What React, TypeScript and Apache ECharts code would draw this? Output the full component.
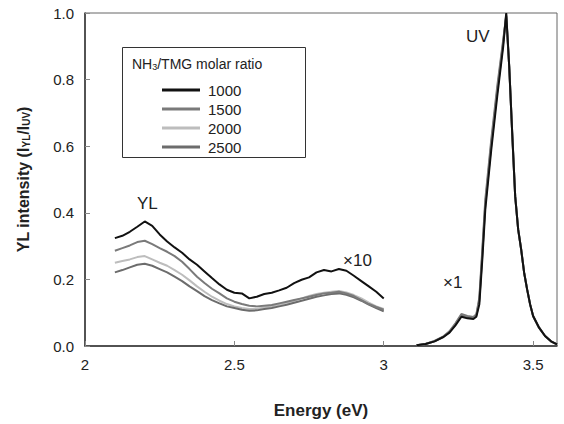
import React, { useEffect, useRef } from "react";
import * as echarts from "echarts";

const ratios = ["1000", "1500", "2000", "2500"];
const colors = ["#111111", "#7a7a7a", "#bdbdbd", "#6c6c6c"];

const energyYL = [2.1, 2.125, 2.15, 2.175, 2.2, 2.225, 2.25, 2.275, 2.3, 2.325, 2.35, 2.375, 2.4, 2.425, 2.45, 2.475, 2.5, 2.525, 2.55, 2.575, 2.6, 2.625, 2.65, 2.675, 2.7, 2.725, 2.75, 2.775, 2.8, 2.825, 2.85, 2.875, 2.9, 2.925, 2.95, 2.975, 3.0];
const yl1000 = [0.324, 0.331, 0.343, 0.358, 0.374, 0.361, 0.335, 0.314, 0.296, 0.280, 0.260, 0.244, 0.224, 0.204, 0.185, 0.169, 0.160, 0.158, 0.143, 0.148, 0.156, 0.160, 0.167, 0.175, 0.189, 0.199, 0.206, 0.221, 0.228, 0.224, 0.231, 0.226, 0.211, 0.195, 0.179, 0.163, 0.143];
const yl1500 = [0.286, 0.294, 0.302, 0.312, 0.316, 0.306, 0.294, 0.283, 0.270, 0.253, 0.231, 0.208, 0.189, 0.172, 0.158, 0.143, 0.133, 0.126, 0.121, 0.119, 0.121, 0.123, 0.128, 0.133, 0.138, 0.143, 0.148, 0.153, 0.158, 0.160, 0.163, 0.158, 0.150, 0.138, 0.126, 0.117, 0.109];
const yl2000 = [0.250, 0.255, 0.260, 0.267, 0.270, 0.260, 0.250, 0.241, 0.228, 0.214, 0.197, 0.179, 0.163, 0.148, 0.136, 0.126, 0.119, 0.114, 0.111, 0.112, 0.116, 0.119, 0.124, 0.130, 0.136, 0.143, 0.150, 0.156, 0.160, 0.163, 0.165, 0.161, 0.153, 0.143, 0.130, 0.119, 0.111];
const yl2500 = [0.221, 0.228, 0.236, 0.244, 0.247, 0.241, 0.231, 0.221, 0.208, 0.195, 0.179, 0.165, 0.150, 0.138, 0.128, 0.119, 0.114, 0.109, 0.106, 0.107, 0.111, 0.114, 0.119, 0.124, 0.130, 0.136, 0.142, 0.148, 0.152, 0.156, 0.158, 0.154, 0.146, 0.136, 0.124, 0.114, 0.104];

const energyUV = [3.11, 3.14, 3.17, 3.2, 3.22, 3.24, 3.26, 3.28, 3.3, 3.31, 3.32, 3.33, 3.34, 3.36, 3.38, 3.4, 3.41, 3.42, 3.43, 3.44, 3.45, 3.46, 3.47, 3.48, 3.49, 3.5, 3.52, 3.54, 3.56, 3.58];
const uv1000 = [0.002, 0.006, 0.014, 0.027, 0.040, 0.062, 0.088, 0.083, 0.081, 0.088, 0.125, 0.260, 0.410, 0.590, 0.750, 0.900, 1.000, 0.840, 0.640, 0.450, 0.350, 0.290, 0.220, 0.170, 0.125, 0.090, 0.055, 0.030, 0.014, 0.005];
const uv1500 = [0.002, 0.006, 0.015, 0.029, 0.044, 0.068, 0.096, 0.090, 0.087, 0.095, 0.145, 0.290, 0.440, 0.620, 0.780, 0.920, 0.990, 0.840, 0.640, 0.450, 0.350, 0.290, 0.220, 0.170, 0.125, 0.090, 0.055, 0.030, 0.014, 0.005];
const uv2000 = [0.002, 0.006, 0.015, 0.028, 0.043, 0.066, 0.094, 0.088, 0.085, 0.093, 0.140, 0.280, 0.430, 0.610, 0.770, 0.915, 0.990, 0.840, 0.640, 0.450, 0.350, 0.290, 0.220, 0.170, 0.125, 0.090, 0.055, 0.030, 0.014, 0.005];
const uv2500 = [0.002, 0.006, 0.014, 0.028, 0.042, 0.065, 0.092, 0.086, 0.084, 0.092, 0.135, 0.275, 0.425, 0.605, 0.765, 0.910, 0.995, 0.840, 0.640, 0.450, 0.350, 0.290, 0.220, 0.170, 0.125, 0.090, 0.055, 0.030, 0.014, 0.005];

const xTickValues = ["2", "2.5", "3", "3.5"];

const ylSets = [yl1000, yl1500, yl2000, yl2500];
const uvSets = [uv1000, uv1500, uv2000, uv2500];

const FONT = "'Liberation Sans', Arial, sans-serif";

export default function App() {
  const ref = useRef<HTMLDivElement>(null);
  useEffect(() => {
    if (!ref.current) return;
    const chart = echarts.init(ref.current, undefined, { renderer: "svg" });
    const zOf = [10, 7, 5, 6];
    const series: any[] = [];
    ratios.forEach((r, i) => {
      series.push({
        name: r,
        type: "line",
        data: energyYL.map((x, k) => [x, ylSets[i][k]]),
        showSymbol: false,
        symbol: "none",
        lineStyle: { color: colors[i], width: 2 },
        itemStyle: { color: colors[i] },
        z: zOf[i],
      });
      series.push({
        name: r,
        type: "line",
        data: energyUV.map((x, k) => [x, uvSets[i][k]]),
        showSymbol: false,
        symbol: "none",
        lineStyle: { color: colors[i], width: 2 },
        itemStyle: { color: colors[i] },
        z: zOf[i],
      });
    });
    chart.setOption({
      animation: false,
      textStyle: { fontFamily: FONT },
      grid: { left: 85, top: 13, right: 7, bottom: 75, show: true, borderColor: "#666", borderWidth: 1 },
      xAxis: {
        type: "value",
        min: 2,
        max: 3.58,
        interval: 0.5,
        name: "Energy (eV)",
        nameLocation: "middle",
        nameGap: 56,
        nameTextStyle: { fontSize: 17, fontWeight: "bold", color: "#222", fontFamily: FONT },
        axisLine: { lineStyle: { color: "#333", width: 1.5 } },
        axisTick: { inside: true, length: 5, lineStyle: { color: "#888" } },
        axisLabel: {
          showMaxLabel: false,
          margin: 11,
          fontSize: 15,
          color: "#222",
          fontFamily: FONT,
          formatter: (v: number) => {
            const s = String(Math.round(v * 10) / 10);
            return xTickValues.includes(s) ? s : "";
          },
        },
        splitLine: { show: false },
      },
      yAxis: {
        type: "value",
        min: 0,
        max: 1,
        interval: 0.2,
        name: "YL intensity (I{s|YL}/I{s|UV})",
        nameLocation: "middle",
        nameGap: 54,
        nameTextStyle: {
          fontSize: 16,
          fontWeight: "bold",
          color: "#222",
          fontFamily: FONT,
          rich: { s: { fontSize: 10, fontWeight: "bold", color: "#222", fontFamily: FONT, padding: [6, 0, 0, 0] } },
        },
        axisLine: { show: true, lineStyle: { color: "#333", width: 1.5 } },
        axisTick: { show: true, inside: true, length: 5, lineStyle: { color: "#888" } },
        axisLabel: { margin: 11, fontSize: 15, color: "#222", fontFamily: FONT, formatter: (v: number) => v.toFixed(1) },
        splitLine: { show: false },
      },
      legend: {
        data: ratios,
        orient: "vertical",
        left: 162,
        top: 80.5,
        padding: 0,
        icon: "rect",
        itemWidth: 38,
        itemHeight: 3,
        itemGap: 0,
        selectedMode: false,
        textStyle: { fontSize: 15, color: "#222", fontFamily: FONT, lineHeight: 19, padding: [0, 0, 0, 3] },
      },
      graphic: [
        { type: "rect", left: 120, top: 45, shape: { width: 183, height: 110 }, style: { fill: "none", stroke: "#333", lineWidth: 1 }, z: 1 },
        {
          type: "text",
          left: 132,
          top: 57,
          style: {
            text: "NH{s|3}/TMG molar ratio",
            fontSize: 14,
            fill: "#222",
            fontFamily: FONT,
            rich: { s: { fontSize: 9, fill: "#222", fontFamily: FONT, padding: [5, 0, 0, 0] } },
          },
        },
        { type: "text", left: 137, top: 195, style: { text: "YL", fontSize: 17, fill: "#222", fontFamily: FONT } },
        { type: "text", left: 343, top: 252, style: { text: "×10", fontSize: 17, fill: "#222", fontFamily: FONT } },
        { type: "text", left: 443, top: 274, style: { text: "×1", fontSize: 17, fill: "#222", fontFamily: FONT } },
        { type: "text", left: 466, top: 28, style: { text: "UV", fontSize: 17, fill: "#222", fontFamily: FONT } },
      ],
      series,
    });
    return () => chart.dispose();
  }, []);
  return <div ref={ref} style={{ width: 564, height: 424, position: "absolute", left: 0, top: 0 }} />;
}
